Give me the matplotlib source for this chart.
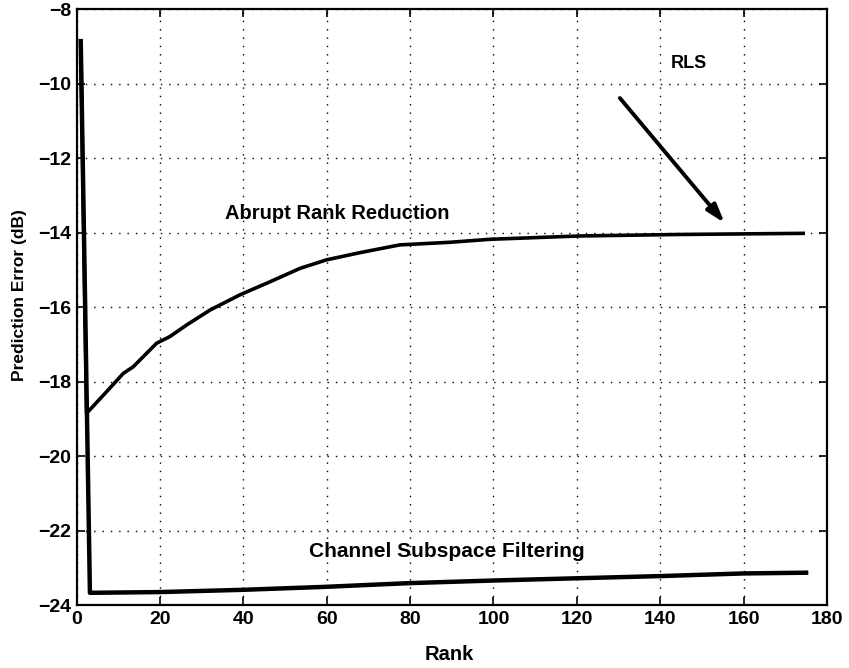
import matplotlib
matplotlib.use("Agg")
import matplotlib.pyplot as plt

plt.rcParams['font.family'] = ['Liberation Sans', 'DejaVu Sans']
plt.rcParams['font.weight'] = 'bold'

# Abrupt Rank Reduction curve
arr_rank = [1, 2.4, 7.2, 11.2, 13.6, 16.8, 19.2, 22.4, 26.4, 32.0, 39.2, 46.4,
            53.6, 60.0, 67.9, 77.5, 89.5, 99.1, 120.7, 144.7, 174.3]
arr_db = [-8.85, -18.84, -18.26, -17.77, -17.59, -17.23, -16.96, -16.78, -16.47,
          -16.07, -15.66, -15.31, -14.95, -14.72, -14.53, -14.32, -14.25, -14.17,
          -14.08, -14.04, -14.01]

# Channel Subspace Filtering curve
csf_rank = [1, 3.2, 20, 39.8, 59.6, 79.8, 100, 120, 140.3, 160, 175]
csf_db = [-8.85, -23.66, -23.64, -23.58, -23.5, -23.4, -23.33, -23.27, -23.21,
          -23.14, -23.12]

x_ticks = [0, 20, 40, 60, 80, 100, 120, 140, 160, 180]
y_ticks = [-24, -22, -20, -18, -16, -14, -12, -10, -8]

fig = plt.figure(figsize=(8.49, 6.68), dpi=100)
ax = fig.add_axes([0.0902, 0.0936, 0.8838, 0.8922])

ax.plot(arr_rank, arr_db, color='black', lw=2.6, solid_joinstyle='round')
ax.plot(csf_rank, csf_db, color='black', lw=3.2, solid_joinstyle='round')

ax.set_xlim(0, 180)
ax.set_ylim(-24, -8)
ax.set_xticks(x_ticks)
ax.set_yticks(y_ticks)
ax.set_yticklabels([f"\u2212{abs(v)}" for v in y_ticks])
ax.grid(True, color='black', linestyle=(0, (1, 5)), linewidth=1.0)
ax.tick_params(direction='in', length=6, width=1.2, top=True, right=True,
               labelsize=14, pad=4)
for lab in ax.get_xticklabels() + ax.get_yticklabels():
    lab.set_fontweight('bold')
for s in ax.spines.values():
    s.set_linewidth(1.6)

ax.set_xlabel('Rank', fontsize=14.5, fontweight='bold')
ax.xaxis.set_label_coords(0.497, -0.066)
ax.set_ylabel('Prediction Error (dB)', fontsize=12.5, fontweight='bold')
ax.yaxis.set_label_coords(-0.066, 0.52)

ax.text(147, -9.44, 'RLS', fontsize=13, fontweight='bold', ha='center', va='center')
ax.text(62.6, -13.47, 'Abrupt Rank Reduction', fontsize=14.5, fontweight='bold',
        ha='center', va='center')
ax.text(88.8, -22.54, 'Channel Subspace Filtering', fontsize=15, fontweight='bold',
        ha='center', va='center')
ax.annotate('', xy=(155.9, -13.79), xytext=(129.9, -10.32),
            arrowprops=dict(arrowstyle='-|>,head_length=1.1,head_width=0.35',
                            color='black', lw=2.8))

fig.savefig('out.png', dpi=100)
